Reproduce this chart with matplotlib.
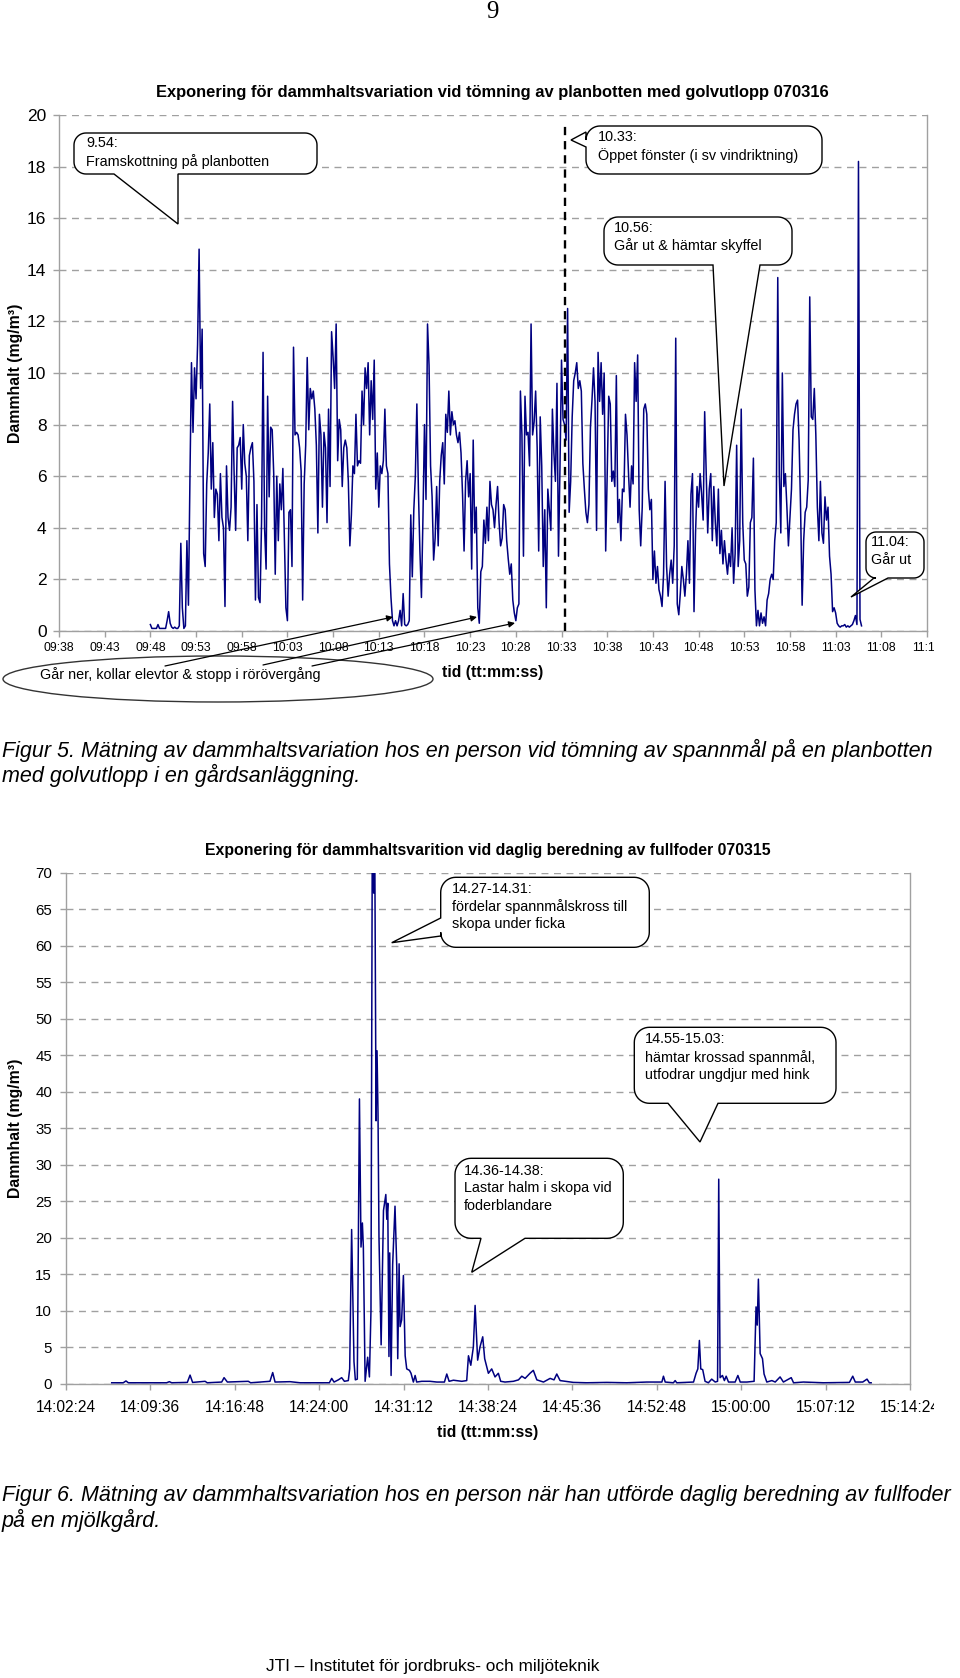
import matplotlib
matplotlib.use("Agg")
import matplotlib.pyplot as plt
import numpy as np
from matplotlib.patches import Polygon, Ellipse
from matplotlib.transforms import Bbox

plt.rcParams['font.family'] = ['Liberation Sans', 'DejaVu Sans']

# ------------------------------------------------------------------
# Figur 5 data: logged every 10 s from 09:48:00 (one row = one minute)
# ------------------------------------------------------------------
top_start = "09:48:00"
top_step_s = 10
top_values = [
    0.25, 0.1, 0.1, 0.1, 0.1, 0.25,      # 09:48
    0.1, 0.1, 0.1, 0.1, 0.1, 0.4,        # 09:49
    0.75, 0.3, 0.15, 0.1, 0.15, 0.1,     # 09:50
    0.1, 0.2, 3.4, 0.9, 0.1, 0.2,        # 09:51
    3.5, 1.0, 6.0, 10.4, 7.7, 10.2,      # 09:52
    9.0, 11.1, 14.8, 9.4, 11.7, 3.0,     # 09:53
    2.5, 5.7, 6.9, 8.8, 5.5, 7.3,        # 09:54
    4.4, 5.5, 5.3, 3.5, 6.1, 4.4,        # 09:55
    4.0, 0.95, 6.4, 4.4, 3.9, 4.8,       # 09:56
    8.9, 6.1, 3.9, 7.1, 7.2, 7.5,        # 09:57
    5.5, 8.0, 6.5, 6.0, 3.5, 6.8,        # 09:58
    7.1, 7.3, 5.8, 1.2, 4.9, 1.3,        # 09:59
    1.1, 4.2, 10.8, 4.0, 2.4, 9.1,       # 10:00
    5.2, 7.9, 7.8, 6.1, 2.2, 6.0,        # 10:01
    3.5, 5.7, 4.7, 6.3, 3.5, 0.9,        # 10:02
    0.4, 4.6, 4.7, 2.5, 11.0, 7.6,       # 10:03
    7.7, 7.6, 7.1, 6.2, 1.2, 5.7,        # 10:04
    7.2, 10.6, 7.8, 9.4, 9.0, 9.3,       # 10:05
    8.6, 7.2, 3.8, 8.4, 7.6, 4.8,        # 10:06
    7.7, 7.1, 4.2, 8.6, 5.6, 11.6,       # 10:07
    10.6, 9.4, 11.9, 6.6, 8.2, 7.8,      # 10:08
    5.6, 7.1, 7.4, 7.1, 5.8, 3.3,        # 10:09
    4.5, 6.4, 6.1, 8.4, 6.4, 6.6,        # 10:10
    6.5, 9.3, 8.0, 10.2, 9.4, 10.4,      # 10:11
    7.6, 9.7, 8.2, 10.5, 5.5, 6.9,       # 10:12
    4.8, 6.4, 6.1, 6.6, 8.6, 6.4,        # 10:13
    6.1, 2.6, 1.3, 0.4, 0.2, 0.4,        # 10:14
    0.2, 0.4, 0.8, 0.2, 1.45, 0.25,      # 10:15
    0.2, 0.25, 0.4, 4.5, 2.1, 4.7,       # 10:16
    6.0, 8.8, 5.5, 3.1, 1.3, 4.4,        # 10:17
    8.0, 5.1, 11.9, 10.3, 6.4, 5.2,      # 10:18
    2.75, 3.6, 5.6, 3.3, 5.8, 6.8,       # 10:19
    7.3, 5.7, 8.4, 7.7, 9.3, 7.6,        # 10:20
    8.5, 8.0, 8.15, 7.6, 7.3, 7.7,       # 10:21
    6.9, 5.3, 3.1, 5.8, 6.6, 5.2,        # 10:22
    6.1, 2.4, 7.4, 3.8, 4.8, 0.9,        # 10:23
    0.3, 2.3, 2.5, 4.3, 3.4, 4.8,        # 10:24
    3.5, 5.8, 4.9, 4.7, 4.0, 4.9,        # 10:25
    5.6, 4.2, 3.3, 3.6, 4.9, 4.7,        # 10:26
    3.5, 2.8, 2.2, 2.6, 1.2, 0.7,        # 10:27
    0.4, 0.9, 1.05, 9.3, 7.6, 2.9,       # 10:28
    9.1, 7.6, 7.7, 6.4, 11.9, 7.6,       # 10:29
    8.1, 9.3, 7.1, 3.1, 8.3, 6.4,        # 10:30
    2.5, 4.7, 0.9, 5.5, 4.7, 3.9,        # 10:31
    8.6, 6.9, 5.8, 9.6, 2.9, 6.4,        # 10:32
    10.5, 8.2, 8.0, 7.4, 12.5, 4.6,      # 10:33
    5.8, 8.3, 9.7, 10.0, 10.4, 9.4,      # 10:34
    9.7, 9.3, 6.5, 5.5, 4.6, 4.2,        # 10:35
    4.9, 7.9, 8.95, 10.2, 8.9, 3.9,      # 10:36
    10.8, 8.9, 10.4, 8.4, 10.0, 3.1,     # 10:37
    6.1, 9.1, 8.8, 5.8, 6.2, 5.6,        # 10:38
    9.9, 4.2, 5.1, 3.5, 5.5, 5.4,        # 10:39
    8.4, 7.6, 6.1, 4.8, 6.4, 5.7,        # 10:40
    10.4, 8.9, 10.7, 4.7, 3.3, 4.8,      # 10:41
    8.6, 8.8, 8.4, 5.5, 4.7, 5.1,        # 10:42
    2.0, 3.1, 1.85, 2.5, 1.6, 1.35,      # 10:43
    0.95, 2.2, 5.8, 2.5, 1.35, 2.2,      # 10:44
    2.75, 1.85, 3.3, 11.35, 1.05, 0.63,  # 10:45
    1.45, 2.5, 2.0, 1.35, 2.2, 3.5,      # 10:46
    1.85, 5.3, 6.1, 0.75, 3.8, 5.6,      # 10:47
    4.8, 6.1, 5.3, 4.3, 8.5, 6.1,        # 10:48
    3.8, 5.5, 6.1, 3.5, 5.6, 4.2,        # 10:49
    3.3, 5.5, 3.0, 3.9, 2.6, 3.5,        # 10:50
    2.75, 2.2, 3.0, 2.5, 4.0, 1.85,      # 10:51
    3.0, 7.2, 2.5, 3.5, 8.6, 4.2,        # 10:52
    2.75, 2.6, 1.35, 1.7, 4.2, 4.4,      # 10:53
    6.7, 1.6, 0.2, 0.8, 0.2, 0.7,        # 10:54
    0.3, 0.55, 0.2, 1.2, 1.45, 2.0,      # 10:55
    2.2, 2.0, 3.5, 4.2, 13.7, 6.1,       # 10:56
    3.8, 10.0, 5.6, 6.1, 4.8, 3.3,       # 10:57
    4.4, 5.5, 7.8, 8.4, 8.8, 8.95,       # 10:58
    7.4, 4.7, 1.0, 3.5, 4.6, 4.8,        # 10:59
    5.85, 12.95, 8.3, 8.2, 9.4, 7.6,     # 11:00
    4.8, 3.5, 5.8, 3.8, 3.4, 5.2,        # 11:01
    4.3, 4.8, 2.9, 2.2, 0.75, 0.9,       # 11:02
    0.7, 0.3, 0.2, 0.15, 0.2, 0.2,       # 11:03
    0.25, 0.15, 0.2, 0.15, 0.2, 0.25,    # 11:04
    0.4, 0.6, 0.25, 18.2, 0.45, 0.2,     # 11:05
]
top_event_time = "10:33:24"           # "10.33: Öppet fönster"
top_event_height = 19.7
top_xticks = ["09:38", "09:43", "09:48", "09:53", "09:58", "10:03", "10:08",
              "10:13", "10:18", "10:23", "10:28", "10:33", "10:38", "10:43",
              "10:48", "10:53", "10:58", "11:03", "11:08", "11:13"]
top_yticks = [0, 2, 4, 6, 8, 10, 12, 14, 16, 18, 20]

# ------------------------------------------------------------------
# Figur 6 data: (time, dust concentration mg/m3)
# ------------------------------------------------------------------
bot_points = [
    ("14:06:18", 0.1), ("14:07:17", 0.1), ("14:07:31", 0.35), ("14:07:43", 0.1),
    ("14:10:59", 0.1), ("14:11:13", 0.25), ("14:11:25", 0.1), ("14:12:45", 0.15),
    ("14:12:59", 1.15), ("14:13:12", 0.15), ("14:14:16", 0.3), ("14:14:27", 0.1),
    ("14:15:41", 0.2), ("14:15:53", 0.8), ("14:16:10", 0.2), ("14:17:57", 0.3),
    ("14:18:09", 0.1), ("14:19:48", 0.3), ("14:20:02", 1.5), ("14:20:14", 0.2),
    ("14:21:31", 0.25), ("14:22:22", 0.1), ("14:24:52", 0.1), ("14:25:04", 0.7),
    ("14:25:16", 0.2), ("14:25:38", 0.5), ("14:25:55", 0.8), ("14:26:09", 0.3),
    ("14:26:29", 0.4), ("14:26:36", 2.0), ("14:26:46", 21.1), ("14:26:58", 3.0),
    ("14:27:05", 0.5), ("14:27:15", 0.6), ("14:27:26", 39.0), ("14:27:34", 18.7),
    ("14:27:41", 22.0), ("14:27:46", 18.7), ("14:27:55", 0.3), ("14:28:08", 3.6),
    ("14:28:17", 0.9), ("14:28:25", 10.0), ("14:28:32", 78.0), ("14:28:39", 67.2),
    ("14:28:44", 76.0), ("14:28:51", 36.0), ("14:28:56", 45.6), ("14:29:01", 37.0),
    ("14:29:06", 20.0), ("14:29:17", 5.3), ("14:29:29", 23.7), ("14:29:41", 25.9),
    ("14:29:46", 22.5), ("14:29:51", 24.7), ("14:29:57", 3.7), ("14:30:01", 17.9),
    ("14:30:08", 1.1), ("14:30:16", 16.3), ("14:30:28", 24.3), ("14:30:37", 16.0),
    ("14:30:42", 3.4), ("14:30:49", 16.4), ("14:30:54", 7.8), ("14:31:02", 8.7),
    ("14:31:11", 14.8), ("14:31:16", 8.7), ("14:31:20", 3.8), ("14:31:28", 2.0),
    ("14:31:42", 1.8), ("14:31:50", 1.4), ("14:32:02", 0.2), ("14:32:11", 1.1),
    ("14:32:19", 0.2), ("14:32:45", 0.3), ("14:33:27", 0.3), ("14:34:02", 0.2),
    ("14:34:41", 0.2), ("14:34:53", 1.3), ("14:35:05", 0.3), ("14:35:27", 0.45),
    ("14:36:10", 0.3), ("14:36:35", 0.4), ("14:36:44", 3.8), ("14:36:56", 2.5),
    ("14:37:09", 5.0), ("14:37:18", 10.7), ("14:37:31", 3.2), ("14:37:43", 5.0),
    ("14:37:57", 6.4), ("14:38:07", 3.4), ("14:38:26", 1.4), ("14:38:43", 2.0),
    ("14:39:00", 0.9), ("14:39:17", 1.4), ("14:39:29", 0.3), ("14:39:51", 0.2),
    ("14:40:34", 0.3), ("14:41:00", 0.5), ("14:41:17", 1.0), ("14:41:34", 0.7),
    ("14:41:59", 1.4), ("14:42:16", 1.8), ("14:42:34", 0.5), ("14:43:08", 0.2),
    ("14:43:42", 0.7), ("14:44:02", 0.5), ("14:44:16", 1.3), ("14:44:33", 0.4),
    ("14:45:41", 0.15), ("14:46:50", 0.1), ("14:48:32", 0.15), ("14:50:14", 0.1),
    ("14:51:57", 0.2), ("14:53:14", 0.2), ("14:53:22", 1.0), ("14:53:31", 0.2),
    ("14:54:13", 0.1), ("14:54:22", 0.4), ("14:54:30", 0.1), ("14:55:56", 0.2),
    ("14:56:09", 1.4), ("14:56:18", 2.0), ("14:56:26", 5.9), ("14:56:33", 2.0),
    ("14:56:43", 1.9), ("14:56:55", 0.3), ("14:57:12", 0.1), ("14:57:29", 0.6),
    ("14:57:47", 0.2), ("14:57:59", 0.3), ("14:58:05", 28.0), ("14:58:12", 0.8),
    ("14:58:24", 1.1), ("14:58:34", 0.4), ("14:58:43", 1.0), ("14:58:55", 0.2),
    ("14:59:29", 0.2), ("14:59:43", 1.1), ("14:59:55", 0.2), ("15:00:29", 0.2),
    ("15:01:06", 0.3), ("15:01:16", 10.5), ("15:01:22", 8.0), ("15:01:28", 14.3),
    ("15:01:37", 4.1), ("15:01:49", 3.4), ("15:01:57", 1.3), ("15:02:11", 0.2),
    ("15:02:37", 0.4), ("15:02:54", 0.2), ("15:03:19", 0.9), ("15:03:36", 0.2),
    ("15:04:16", 0.8), ("15:04:28", 0.1), ("15:05:19", 0.2), ("15:06:10", 0.15),
    ("15:07:01", 0.1), ("15:09:14", 0.15), ("15:09:31", 1.0), ("15:09:44", 0.2),
    ("15:10:22", 0.2), ("15:10:44", 0.6), ("15:10:56", 0.1), ("15:11:05", 0.1),
]
bot_xticks = ["14:02:24", "14:09:36", "14:16:48", "14:24:00", "14:31:12", "14:38:24",
              "14:45:36", "14:52:48", "15:00:00", "15:07:12", "15:14:24"]
bot_yticks = [0, 5, 10, 15, 20, 25, 30, 35, 40, 45, 50, 55, 60, 65, 70]

# ------------------------------------------------------------------
W, H = 960, 1678
fig = plt.figure(figsize=(W / 100, H / 100), dpi=100)
fig.patch.set_facecolor('white')

LINE = '#000080'
GRID = '#a0a0a0'
SPINE = '#a0a0a0'
FS_NOTE = 10.4


def to_min(s):
    p = [float(v) for v in s.split(':')]
    while len(p) < 3:
        p.append(0.0)
    return p[0] * 60 + p[1] + p[2] / 60


def rect(x0, y0, x1, y1):
    return [x0 / W, 1 - y1 / H, (x1 - x0) / W, (y1 - y0) / H]


def style(ax, xt, xl, yt, xfs, yfs, xpad, ypad):
    ax.set_xticks(xt)
    ax.set_xticklabels(xl)
    ax.set_yticks(yt)
    ax.tick_params(axis='x', labelsize=xfs, length=4, width=1, color=SPINE, pad=xpad)
    ax.tick_params(axis='y', labelsize=yfs, length=4, width=1, color=SPINE, pad=ypad)
    for s in ['left', 'right', 'bottom']:
        ax.spines[s].set_color(SPINE)
        ax.spines[s].set_linewidth(1)
    ax.spines['top'].set_visible(False)
    ax.grid(axis='y', color=GRID, lw=1, linestyle=(0, (5, 4)))
    ax.set_axisbelow(True)
    clip = Bbox.from_extents(0, 0, 934, H)
    for tk in ax.xaxis.get_major_ticks():
        tk.label1.set_clip_box(clip)
        tk.label1.set_clip_on(True)


# ---------------- top chart ----------------
ax1 = fig.add_axes(rect(59, 115, 927, 631))
t1 = to_min(top_start) + np.arange(len(top_values)) * top_step_s / 60.0
ax1.plot(t1, top_values, color=LINE, lw=1.1, zorder=3)
ev = to_min(top_event_time)
ax1.plot([ev, ev], [0, top_event_height], color='black', lw=1.7,
         linestyle=(0, (3.5, 2.5)), zorder=4)
ax1.set_xlim(to_min(top_xticks[0]), to_min(top_xticks[-1]))
ax1.set_ylim(0, 20)
style(ax1, [to_min(s) for s in top_xticks], top_xticks, top_yticks,
      8.8, 12.5, 4, 5)

# ---------------- bottom chart ----------------
ax2 = fig.add_axes(rect(66, 872.7, 910, 1383.5))
bt = [to_min(t) for t, v in bot_points]
bv = [v for t, v in bot_points]
ax2.plot(bt, bv, color=LINE, lw=1.1, zorder=3)
ax2.set_xlim(to_min(bot_xticks[0]), to_min(bot_xticks[-1]))
ax2.set_ylim(0, 70)
style(ax2, [to_min(s) for s in bot_xticks], bot_xticks, bot_yticks,
      11.2, 10.8, 8, 6)

# ---------------- overlay (pixel coordinates, y down) ----------------
ov = fig.add_axes([0, 0, 1, 1], zorder=10)
ov.set_xlim(0, W)
ov.set_ylim(H, 0)
ov.axis('off')


def bubble(x0, y0, x1, y1, side, b1, b2, tip, r=13):
    pts = []

    def arc(cx, cy, a0, a1):
        for a in np.linspace(np.radians(a0), np.radians(a1), 12):
            pts.append((cx + r * np.cos(a), cy - r * np.sin(a)))

    arc(x1 - r, y0 + r, 90, 0)
    arc(x1 - r, y1 - r, 0, -90)
    if side == 'bottom':
        pts.extend([(b2, y1), tip, (b1, y1)])
    arc(x0 + r, y1 - r, -90, -180)
    if side == 'left':
        pts.extend([(x0, b2), tip, (x0, b1)])
    arc(x0 + r, y0 + r, 180, 90)
    ov.add_patch(Polygon(pts, closed=True, fc='white', ec='black', lw=1.0, zorder=5))


def note(x, ys, lines, fs=FS_NOTE):
    for y, s in zip(ys, lines):
        ov.text(x, y, s, fontsize=fs, ha='left', va='center', zorder=6)


# page number
ov.text(492, 12, '9', family=['Liberation Serif', 'DejaVu Serif'], fontsize=18,
        ha='center', va='center')

# titles and axis labels
ov.text(492, 93, 'Exponering för dammhaltsvariation vid tömning av planbotten med golvutlopp 070316',
        fontsize=11.9, fontweight='bold', ha='center', va='center')
ov.text(16, 373, 'Dammhalt (mg/m³)', fontsize=11.4, fontweight='bold', rotation=90,
        ha='center', va='center')
ov.text(493, 673, 'tid (tt:mm:ss)', fontsize=11.3, fontweight='bold', ha='center', va='center')

ov.text(488, 851, 'Exponering för dammhaltsvarition vid daglig beredning av fullfoder 070315',
        fontsize=11.4, fontweight='bold', ha='center', va='center')
ov.text(16, 1128, 'Dammhalt (mg/m³)', fontsize=11.4, fontweight='bold', rotation=90,
        ha='center', va='center')
ov.text(488, 1432, 'tid (tt:mm:ss)', fontsize=11.3, fontweight='bold', ha='center', va='center')

# top chart callouts
bubble(74, 133, 317, 174, 'bottom', 114, 178, (178, 224), r=12)
note(86, [143, 162], ['9.54:', 'Framskottning på planbotten'])

bubble(586, 126, 822, 174, 'left', 132, 147, (571, 140), r=14)
note(598, [137, 156], ['10.33:', 'Öppet fönster (i sv vindriktning)'])

bubble(604, 217, 792, 265, 'bottom', 713, 760, (724, 486), r=14)
note(614, [228, 246], ['10.56:', 'Går ut & hämtar skyffel'])

bubble(866, 532, 924, 578, 'bottom', 874, 888, (851, 597), r=10)
note(871, [542, 560], ['11.04:', 'Går ut'])

# ellipse with arrows
ov.add_patch(Ellipse((218, 679), 430, 46, fc='none', ec='#333333', lw=1.0, zorder=5))
ov.text(40, 675, 'Går ner, kollar elevtor & stopp i rörövergång', fontsize=FS_NOTE,
        ha='left', va='center', zorder=6)
for tail, tip in [((165, 666), (393, 617)), ((263, 665), (477, 617)), ((312, 666), (515, 623))]:
    ov.annotate('', xy=tip, xytext=tail,
                arrowprops=dict(arrowstyle='-|>', color='black', lw=0.9,
                                mutation_scale=9, shrinkA=0, shrinkB=0), zorder=6)

# bottom chart callouts
bubble(440.7, 877.3, 649.3, 947.3, 'left', 918, 936, (391.7, 942.7), r=15)
note(451.7, [889.3, 906.7, 924.3], ['14.27-14.31:', 'fördelar spannmålskross till', 'skopa under ficka'])

bubble(634.3, 1027.3, 836, 1103.3, 'bottom', 668, 718, (700, 1142), r=15)
note(645, [1039.3, 1057.7, 1075], ['14.55-15.03:', 'hämtar krossad spannmål,', 'utfodrar ungdjur med hink'])

bubble(455, 1158.3, 623.3, 1238.3, 'bottom', 481, 525, (471.7, 1272.3), r=16)
note(464, [1170.7, 1188.3, 1206], ['14.36-14.38:', 'Lastar halm i skopa vid', 'foderblandare'])

# captions
cap_fs = 15.5
ov.text(2, 750, 'Figur 5. Mätning av dammhaltsvariation hos en person vid tömning av spannmål på en planbotten',
        fontsize=cap_fs, style='italic', ha='left', va='center')
ov.text(2, 775, 'med golvutlopp i en gårdsanläggning.', fontsize=cap_fs, style='italic',
        ha='left', va='center')
ov.text(2, 1495, 'Figur 6. Mätning av dammhaltsvariation hos en person när han utförde daglig beredning av fullfoder',
        fontsize=cap_fs, style='italic', ha='left', va='center')
ov.text(2, 1520, 'på en mjölkgård.', fontsize=cap_fs, style='italic', ha='left', va='center')

# footer
ov.text(433, 1667, 'JTI – Institutet för jordbruks- och miljöteknik', fontsize=12.4,
        ha='center', va='center')

fig.savefig('out.png', dpi=100, facecolor='white')
